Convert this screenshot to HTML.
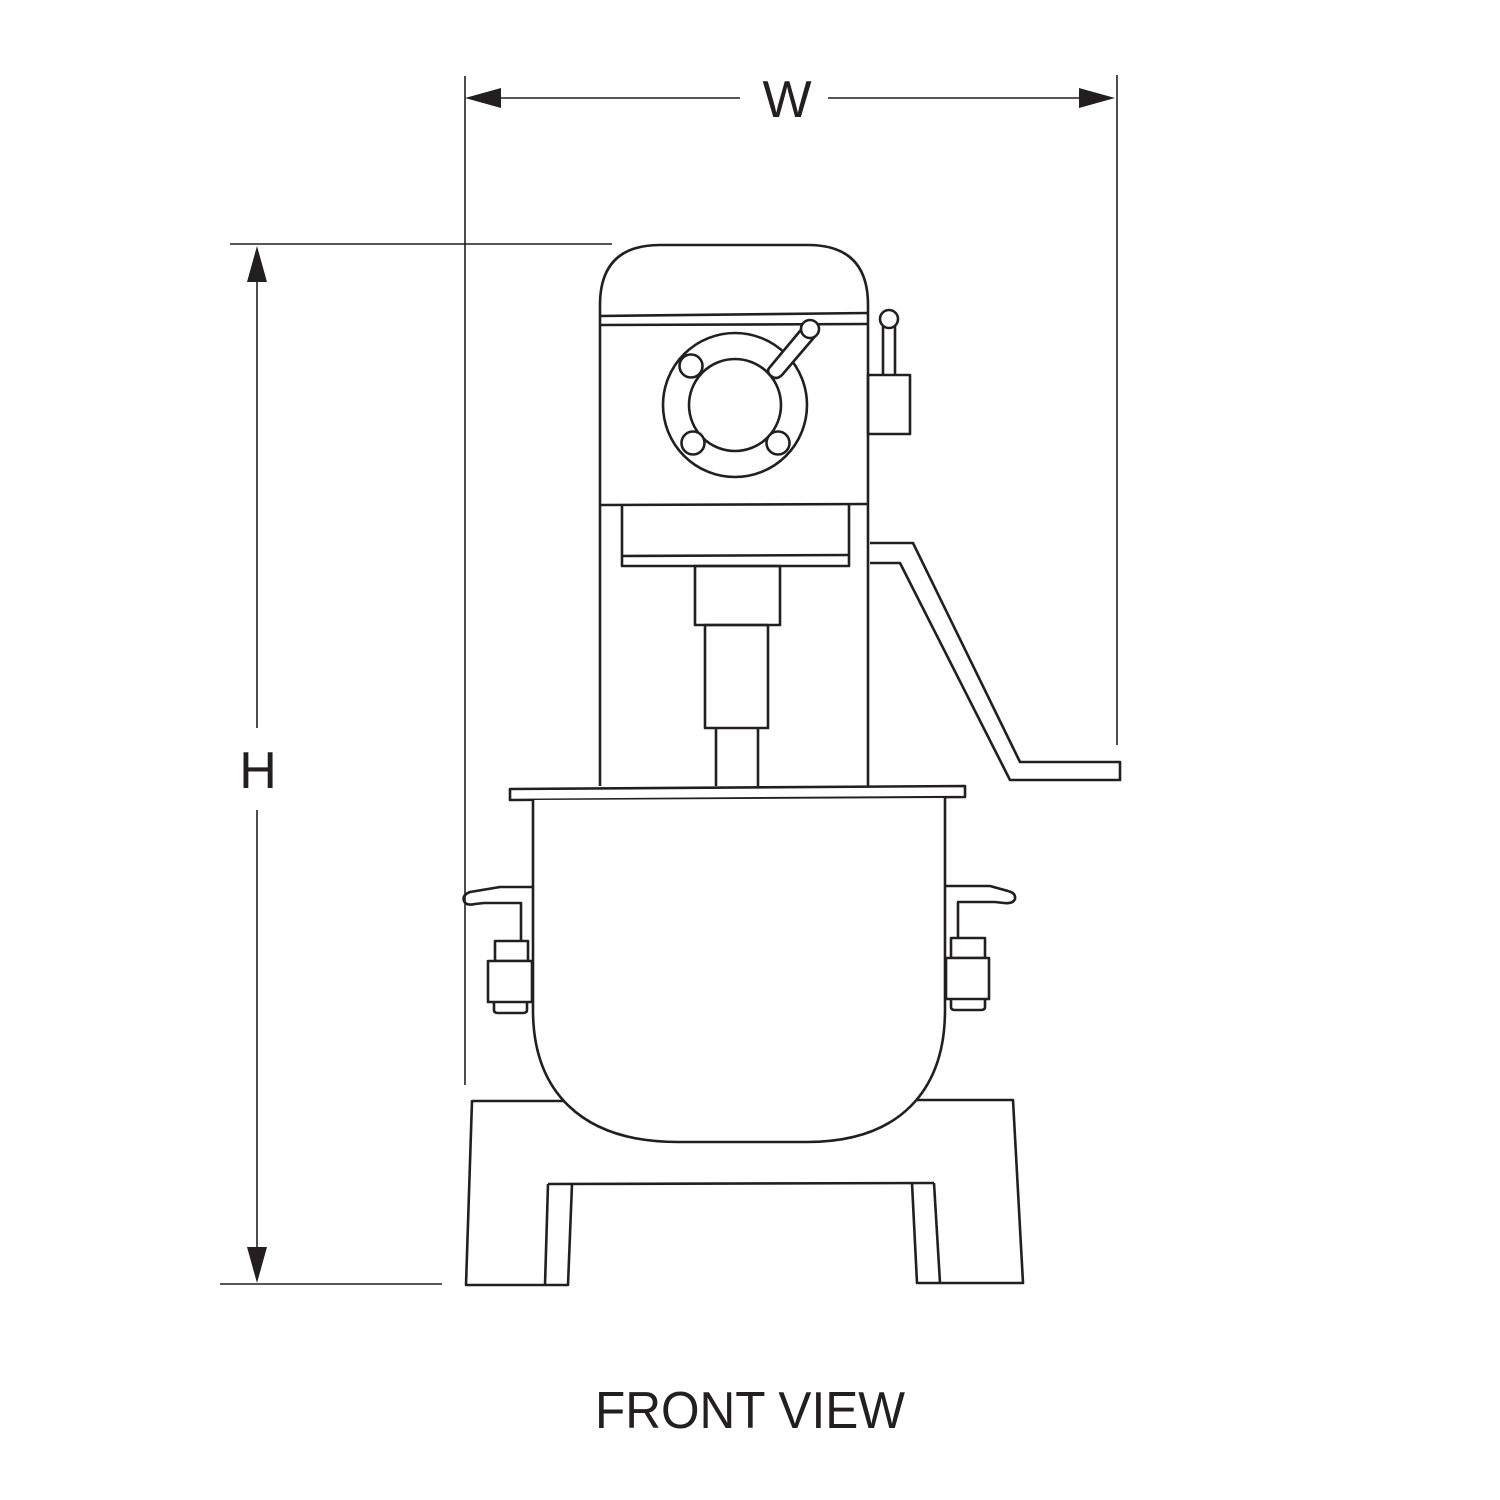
<!DOCTYPE html>
<html><head><meta charset="utf-8"><style>
html,body{margin:0;padding:0;background:#fff;}
svg{display:block;}
</style></head><body>
<svg width="1500" height="1500" viewBox="0 0 1500 1500" xmlns="http://www.w3.org/2000/svg">
<rect width="1500" height="1500" fill="#fff"/>
<g fill="none" stroke="#231f20" stroke-width="1.6">
<line x1="465" y1="76" x2="465" y2="1085"/>
<line x1="1117" y1="75" x2="1117" y2="745"/>
<line x1="230" y1="244" x2="612" y2="244"/>
<line x1="220" y1="1284" x2="442" y2="1284"/>
<line x1="490" y1="98" x2="740" y2="98"/>
<line x1="828" y1="98" x2="1090" y2="98"/>
<line x1="257" y1="270" x2="257" y2="728"/>
<line x1="257" y1="810" x2="257" y2="1260"/>
</g>
<g fill="#231f20">
<polygon points="465,98 501,88 501,108"/>
<polygon points="1115,98 1079,88 1079,108"/>
<polygon points="257,246 247,282 267,282"/>
<polygon points="257,1283 247,1247 267,1247"/>
</g>
<g font-family="'Liberation Sans', sans-serif" fill="#231f20">
<text x="787" y="117" font-size="52" text-anchor="middle">W</text>
<text x="258" y="788" font-size="52" text-anchor="middle">H</text>
<text x="595" y="1428" font-size="52" textLength="310" lengthAdjust="spacingAndGlyphs">FRONT VIEW</text>
</g>
<g fill="none" stroke="#231f20" stroke-width="2.6" stroke-linejoin="round">
<path d="M600,786 L600,305 Q600,245 660,245 L808,245 Q868,245 868,305 L868,786"/>
<line x1="600" y1="316" x2="868" y2="313"/>
<line x1="600" y1="325" x2="868" y2="324"/>
<line x1="600" y1="505" x2="868" y2="504"/>
<circle cx="735" cy="405" r="72" fill="#fff"/>
<circle cx="735" cy="405" r="46"/>
<circle cx="691" cy="366" r="11.5" fill="#fff"/>
<circle cx="693" cy="443" r="11.5" fill="#fff"/>
<circle cx="778" cy="443" r="11.5" fill="#fff"/>
<path d="M770,367 L805,325 L817,334 L782,375 Q776,381 770,375 Q766,371 770,367 Z" fill="#fff"/>
<circle cx="810" cy="329" r="9" fill="#fff"/>
<line x1="883" y1="326" x2="883" y2="375"/>
<line x1="895" y1="326" x2="895" y2="375"/>
<circle cx="889" cy="319" r="9" fill="#fff"/>
<rect x="868" y="375" width="42" height="59"/>
<polyline points="622,505 622,566 849,566 849,504"/>
<line x1="622" y1="556" x2="849" y2="555"/>
<rect x="695" y="566" width="85" height="59"/>
<rect x="705" y="625" width="63" height="103"/>
<polyline points="716,728 716,786"/>
<polyline points="758,728 758,786"/>
<polyline points="870,543 913,543 1020,762 1120,762 1120,780 1010,780 900,563 870,563"/>
<polygon points="510,789 965,786 965,797 510,800" fill="#fff"/>
<polyline points="575,1101 472,1101 466,1285 568,1285 572,1184"/>
<polyline points="912,1183 917,1283 1023,1283 1013,1100 907,1100"/>
<line x1="548" y1="1184" x2="934" y2="1183"/>
<line x1="548" y1="1184" x2="545" y2="1285"/>
<line x1="934" y1="1183" x2="940" y2="1283"/>
<path d="M533,800 L533,1010 C533,1090 580,1142 678,1142 L807,1142 C900,1142 945,1090 945,1010 L945,798" fill="#fff"/>
<path d="M533,887 L500,887 L470,892 Q462,895 464,901 Q466,906 475,904 L484,903 L521,903 L521,941"/>
<rect x="495" y="941" width="33" height="20" fill="#fff"/>
<rect x="488" y="961" width="44" height="41" fill="#fff"/>
<path d="M494,1002 L494,1010 Q494,1013 498,1013 L523,1013 Q527,1013 527,1010 L527,1002"/>
<path d="M945,886 L990,886 L1008,891 Q1016,893 1015,899 Q1013,904 1004,903 L995,902 L958,902 L958,938"/>
<rect x="951" y="938" width="34" height="20" fill="#fff"/>
<rect x="946" y="958" width="43" height="41" fill="#fff"/>
<path d="M951,999 L951,1007 Q951,1010 955,1010 L981,1010 Q985,1010 985,1007 L985,999"/>
</g>
</svg>
</body></html>
